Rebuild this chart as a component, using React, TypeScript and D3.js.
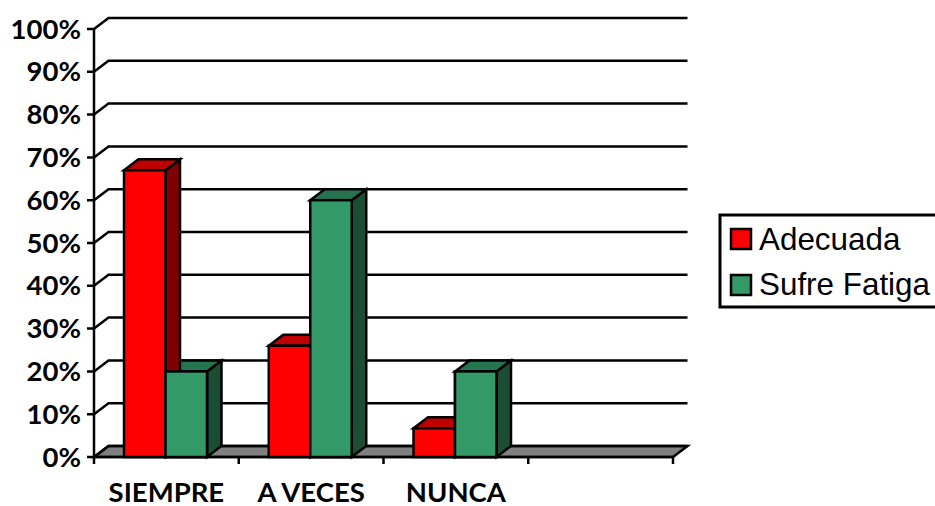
import React from "react";
import * as d3 from "d3";

const categories = ["SIEMPRE", "A VECES", "NUNCA", ""];
const adecuada = [67, 26, 6.7, null];
const sufreFatiga = [20, 60, 20, null];
const yTicks = [0, 10, 20, 30, 40, 50, 60, 70, 80, 90, 100];
const seriesNames = ["Adecuada", "Sufre Fatiga"];
const colors = ["#ff0000", "#339966"];
const topColors = ["#bf0000", "#267350"];
const sideColors = ["#800000", "#1a4d33"];

const DX = 14.5;
const DY = -11;
const SW = 2.5;
const x0 = d3.scaleBand<string>().domain(categories.map((c, i) => i + c)).range([94, 673]).padding(0);
const y = d3.scaleLinear().domain([0, 100]).range([457, 29]);
const font = "Lato, 'Open Sans', sans-serif";
const legendFont = "'Liberation Sans', Arial, sans-serif";

function Bar({ x, w, v, s }: { x: number; w: number; v: number; s: number }) {
  const t = y(v);
  const b = y(0);
  const st = { stroke: "#000", strokeWidth: SW, strokeLinejoin: "miter" as const };
  return (
    <g>
      <path d={`M${x + w},${t}L${x + w + DX},${t + DY}L${x + w + DX},${b + DY}L${x + w},${b}Z`} fill={sideColors[s]} {...st} />
      <path d={`M${x},${t}L${x + DX},${t + DY}L${x + w + DX},${t + DY}L${x + w},${t}Z`} fill={topColors[s]} {...st} />
      <rect x={x} y={t} width={w} height={b - t} fill={colors[s]} {...st} />
    </g>
  );
}

export default function App() {
  const bw = x0.bandwidth();
  const barW = 41.5;
  const off = 30;
  const floor = y(0);
  const right = x0.range()[1];
  return (
    <svg width={935} height={506} style={{ position: "absolute", left: 0, top: 0, background: "#fff" }}>
      <path d={`M94,${floor}L${94 + DX},${floor + DY}L${right + DX},${floor + DY}L${right},${floor}Z`} fill="#808080" stroke="#000" strokeWidth={SW} />
      {yTicks.map((t) => (
        <g key={t}>
          <path d={`M87,${y(t)}L94,${y(t)}L${94 + DX},${y(t) + DY}L${right + DX},${y(t) + DY}`} fill="none" stroke="#000" strokeWidth={SW} />
          <text x={81} y={y(t) + 9.5} textAnchor="end" fontFamily={font} fontWeight={700} fontSize={27.5} fill="#000">
            {t}%
          </text>
        </g>
      ))}
      <line x1={94} x2={94} y1={y(100)} y2={floor + 7} stroke="#000" strokeWidth={SW} />
      <line x1={94} x2={right} y1={floor} y2={floor} stroke="#000" strokeWidth={SW} />
      {categories.map((c, i) => (
        <line key={i} x1={x0(i + c)! + bw} x2={x0(i + c)! + bw} y1={floor} y2={floor + 7} stroke="#000" strokeWidth={SW} />
      ))}
      {categories.map((c, i) => {
        const gx = x0(i + c)! + off;
        const a = adecuada[i];
        const f = sufreFatiga[i];
        return (
          <g key={i}>
            {f != null && <Bar x={gx + barW} w={barW} v={f} s={1} />}
            {a != null && <Bar x={gx} w={barW} v={a} s={0} />}
            {f != null && <rect x={gx + barW} y={y(f)} width={barW} height={floor - y(f)} fill={colors[1]} stroke="#000" strokeWidth={SW} />}
            {c && (
              <text x={x0(i + c)! + bw / 2} y={502} textAnchor="middle" fontFamily={font} fontWeight={700} fontSize={27.5} fill="#000">
                {c}
              </text>
            )}
          </g>
        );
      })}
      <rect x={720} y={215} width={220} height={92} fill="#fff" stroke="#000" strokeWidth={3} />
      {seriesNames.map((n, i) => (
        <g key={n}>
          <rect x={731} y={229 + i * 46} width={20} height={20} fill={colors[i]} stroke="#000" strokeWidth={SW} />
          <text x={759} y={250 + i * 45} fontFamily={legendFont} fontSize={31.4} fill="#000">
            {n}
          </text>
        </g>
      ))}
    </svg>
  );
}
